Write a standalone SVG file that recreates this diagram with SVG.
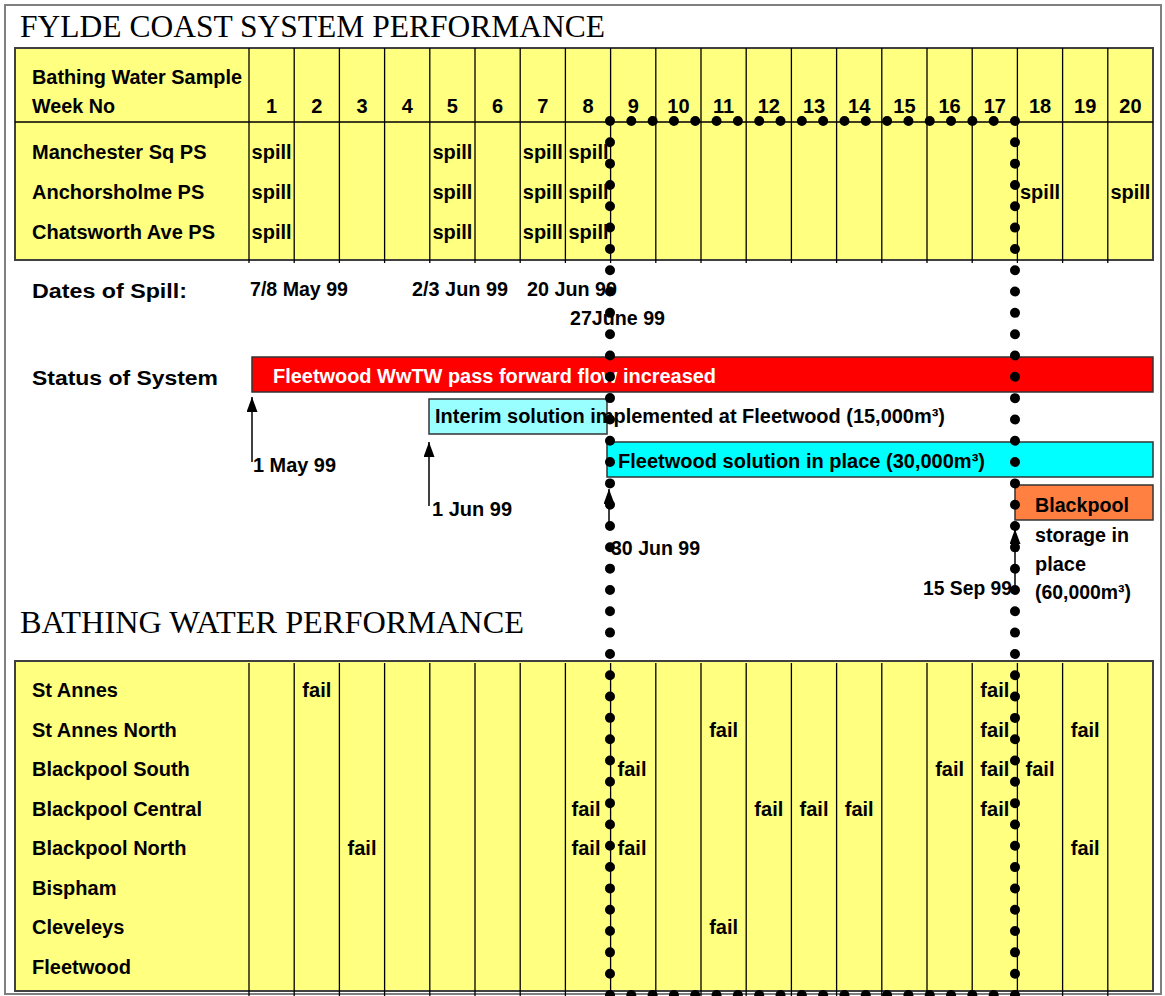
<svg xmlns="http://www.w3.org/2000/svg" width="1165" height="996" viewBox="0 0 1165 996">
<defs>
<style>
.t{font-family:"Liberation Sans",Arial,sans-serif;font-weight:bold;font-size:20px;fill:#000}
.c{text-anchor:middle}
.w{fill:#fff}
.ttl{font-family:"Liberation Serif","Times New Roman",serif;font-size:32px;fill:#000}
.tbl{fill:#FFFF80;stroke:#404040;stroke-width:2}
.grid{stroke:#000;stroke-width:1.3;fill:none}
.bar{stroke:#333;stroke-width:1.5}
.arr{stroke:#000;stroke-width:1.5;fill:none;marker-end:url(#ah)}
</style>
<marker id="ah" markerUnits="userSpaceOnUse" markerWidth="16" markerHeight="12" refX="15" refY="5.5" orient="auto">
<path d="M0,0 L15,5.5 L0,11 z" fill="#000"/>
</marker>
</defs>
<rect x="0" y="0" width="1165" height="996" fill="#fff"/>
<rect x="5" y="5" width="1156" height="989" fill="#fff" stroke="#808080" stroke-width="2"/>

<g id="title1"><text class="ttl" x="20" y="37" textLength="585" lengthAdjust="spacingAndGlyphs">FYLDE COAST SYSTEM PERFORMANCE</text></g>

<g id="system-table">
<rect class="tbl" x="15" y="48" width="1138" height="212"/>
<path class="grid" d="M15,122H1153M249,48V263M294.2,48V263M339.4,48V263M384.6,48V263M429.8,48V263M475,48V263M520.2,48V263M565.4,48V263M610.6,48V263M655.8,48V263M701,48V263M746.2,48V263M791.4,48V263M836.6,48V263M881.8,48V263M927,48V263M972.2,48V263M1017.4,48V263M1062.6,48V263M1107.8,48V263"/>
<text class="t" x="32" y="84" font-size="21" textLength="210" lengthAdjust="spacingAndGlyphs">Bathing Water Sample</text>
<text class="t" x="32" y="113" font-size="21" textLength="83" lengthAdjust="spacingAndGlyphs">Week No</text>
<g>
<text class="t c" x="271.6" y="113">1</text>
<text class="t c" x="316.8" y="113">2</text>
<text class="t c" x="362" y="113">3</text>
<text class="t c" x="407.2" y="113">4</text>
<text class="t c" x="452.4" y="113">5</text>
<text class="t c" x="497.6" y="113">6</text>
<text class="t c" x="542.8" y="113">7</text>
<text class="t c" x="588" y="113">8</text>
<text class="t c" x="633.2" y="113">9</text>
<text class="t c" x="678.4" y="113">10</text>
<text class="t c" x="723.6" y="113">11</text>
<text class="t c" x="768.8" y="113">12</text>
<text class="t c" x="814" y="113">13</text>
<text class="t c" x="859.2" y="113">14</text>
<text class="t c" x="904.4" y="113">15</text>
<text class="t c" x="949.6" y="113">16</text>
<text class="t c" x="994.8" y="113">17</text>
<text class="t c" x="1040" y="113">18</text>
<text class="t c" x="1085.2" y="113">19</text>
<text class="t c" x="1130.4" y="113">20</text>
</g>
<text class="t" x="32" y="159">Manchester Sq PS</text>
<text class="t" x="32" y="199">Anchorsholme PS</text>
<text class="t" x="32" y="239">Chatsworth Ave PS</text>
<text class="t c" x="271.6" y="159">spill</text>
<text class="t c" x="452.4" y="159">spill</text>
<text class="t c" x="542.8" y="159">spill</text>
<text class="t c" x="588.5" y="159">spill</text>
<text class="t c" x="271.6" y="199">spill</text>
<text class="t c" x="452.4" y="199">spill</text>
<text class="t c" x="542.8" y="199">spill</text>
<text class="t c" x="588.5" y="199">spill</text>
<text class="t c" x="1040" y="199">spill</text>
<text class="t c" x="1130.4" y="199">spill</text>
<text class="t c" x="271.6" y="239">spill</text>
<text class="t c" x="452.4" y="239">spill</text>
<text class="t c" x="542.8" y="239">spill</text>
<text class="t c" x="588.5" y="239">spill</text>
</g>

<g id="dates-of-spill">
<text class="t" x="32" y="298" font-size="26" textLength="155" lengthAdjust="spacingAndGlyphs">Dates of Spill:</text>
<text class="t" x="250" y="296" font-size="22" textLength="98" lengthAdjust="spacingAndGlyphs">7/8 May 99</text>
<text class="t" x="412" y="296" font-size="22" textLength="96" lengthAdjust="spacingAndGlyphs">2/3 Jun 99</text>
<text class="t" x="527" y="296" font-size="22" textLength="90" lengthAdjust="spacingAndGlyphs">20 Jun 99</text>
<text class="t" x="570" y="325" font-size="22" textLength="95" lengthAdjust="spacingAndGlyphs">27June 99</text>
</g>

<g id="status-label"><text class="t" x="32" y="385" font-size="26" textLength="186" lengthAdjust="spacingAndGlyphs">Status of System</text></g>

<g id="bar-pass-forward">
<rect class="bar" x="252" y="357" width="901" height="35" fill="#FF0000"/>
<text class="t w" x="273" y="383" font-size="22" textLength="443" lengthAdjust="spacingAndGlyphs">Fleetwood WwTW pass forward flow increased</text>
</g>
<g id="bar-interim">
<rect class="bar" x="429" y="399" width="178" height="35" fill="#99FFFF"/>
<text class="t" x="435" y="423" font-size="22" textLength="510" lengthAdjust="spacingAndGlyphs">Interim solution implemented at Fleetwood (15,000m³)</text>
</g>
<g id="bar-fleetwood">
<rect class="bar" x="607" y="442" width="546" height="35" fill="#00FFFF"/>
<text class="t" x="618" y="468" font-size="22" textLength="367" lengthAdjust="spacingAndGlyphs">Fleetwood solution in place (30,000m³)</text>
</g>
<g id="bar-blackpool">
<rect class="bar" x="1015" y="485" width="138" height="35" fill="#FF8040"/>
<text class="t" x="1035" y="512" font-size="22" textLength="94" lengthAdjust="spacingAndGlyphs">Blackpool</text>
<text class="t" x="1035" y="542" font-size="22" textLength="94" lengthAdjust="spacingAndGlyphs">storage in</text>
<text class="t" x="1035" y="571" font-size="22" textLength="51" lengthAdjust="spacingAndGlyphs">place</text>
<text class="t" x="1035" y="599" font-size="22" textLength="96" lengthAdjust="spacingAndGlyphs">(60,000m³)</text>
</g>

<g id="date-labels">
<text class="t" x="253" y="472" font-size="22" textLength="83" lengthAdjust="spacingAndGlyphs">1 May 99</text>
<text class="t" x="432" y="516" font-size="22" textLength="80" lengthAdjust="spacingAndGlyphs">1 Jun 99</text>
<text class="t" x="611" y="555" font-size="22" textLength="89" lengthAdjust="spacingAndGlyphs">30 Jun 99</text>
<text class="t" x="923" y="595" font-size="22" textLength="89" lengthAdjust="spacingAndGlyphs">15 Sep 99</text>
</g>

<g id="connectors">
<path class="arr" d="M252,462V397"/>
<path class="arr" d="M429,506V442"/>
<path class="arr" d="M609,528V489"/>
<path class="arr" d="M1015,590V529"/>
</g>

<g id="title2"><text class="ttl" x="20" y="633" textLength="504" lengthAdjust="spacingAndGlyphs">BATHING WATER PERFORMANCE</text></g>

<g id="bathing-table">
<rect class="tbl" x="15" y="661" width="1138" height="330"/>
<path class="grid" d="M249,663V996M294.2,663V996M339.4,663V996M384.6,663V996M429.8,663V996M475,663V996M520.2,663V996M565.4,663V996M610.6,663V996M655.8,663V996M701,663V996M746.2,663V996M791.4,663V996M836.6,663V996M881.8,663V996M927,663V996M972.2,663V996M1017.4,663V996M1062.6,663V996M1107.8,663V996"/>
<text class="t" x="32" y="697">St Annes</text>
<text class="t" x="32" y="736.5">St Annes North</text>
<text class="t" x="32" y="776">Blackpool South</text>
<text class="t" x="32" y="815.5">Blackpool Central</text>
<text class="t" x="32" y="855">Blackpool North</text>
<text class="t" x="32" y="894.5">Bispham</text>
<text class="t" x="32" y="934">Cleveleys</text>
<text class="t" x="32" y="973.5">Fleetwood</text>
<text class="t c" x="316.8" y="697">fail</text>
<text class="t c" x="994.8" y="697">fail</text>
<text class="t c" x="723.6" y="736.5">fail</text>
<text class="t c" x="994.8" y="736.5">fail</text>
<text class="t c" x="1085.2" y="736.5">fail</text>
<text class="t c" x="632" y="776">fail</text>
<text class="t c" x="949.6" y="776">fail</text>
<text class="t c" x="994.8" y="776">fail</text>
<text class="t c" x="1040" y="776">fail</text>
<text class="t c" x="586" y="815.5">fail</text>
<text class="t c" x="768.8" y="815.5">fail</text>
<text class="t c" x="814" y="815.5">fail</text>
<text class="t c" x="859.2" y="815.5">fail</text>
<text class="t c" x="994.8" y="815.5">fail</text>
<text class="t c" x="362" y="855">fail</text>
<text class="t c" x="586" y="855">fail</text>
<text class="t c" x="632" y="855">fail</text>
<text class="t c" x="1085.2" y="855">fail</text>
<text class="t c" x="723.6" y="934">fail</text>
</g>

<g id="dotted-boundary">
<path d="M610,121H1015V995H610Z" fill="none" stroke="#000" stroke-width="10" stroke-linecap="round" stroke-dasharray="0 21.3167"/>
</g>
</svg>
